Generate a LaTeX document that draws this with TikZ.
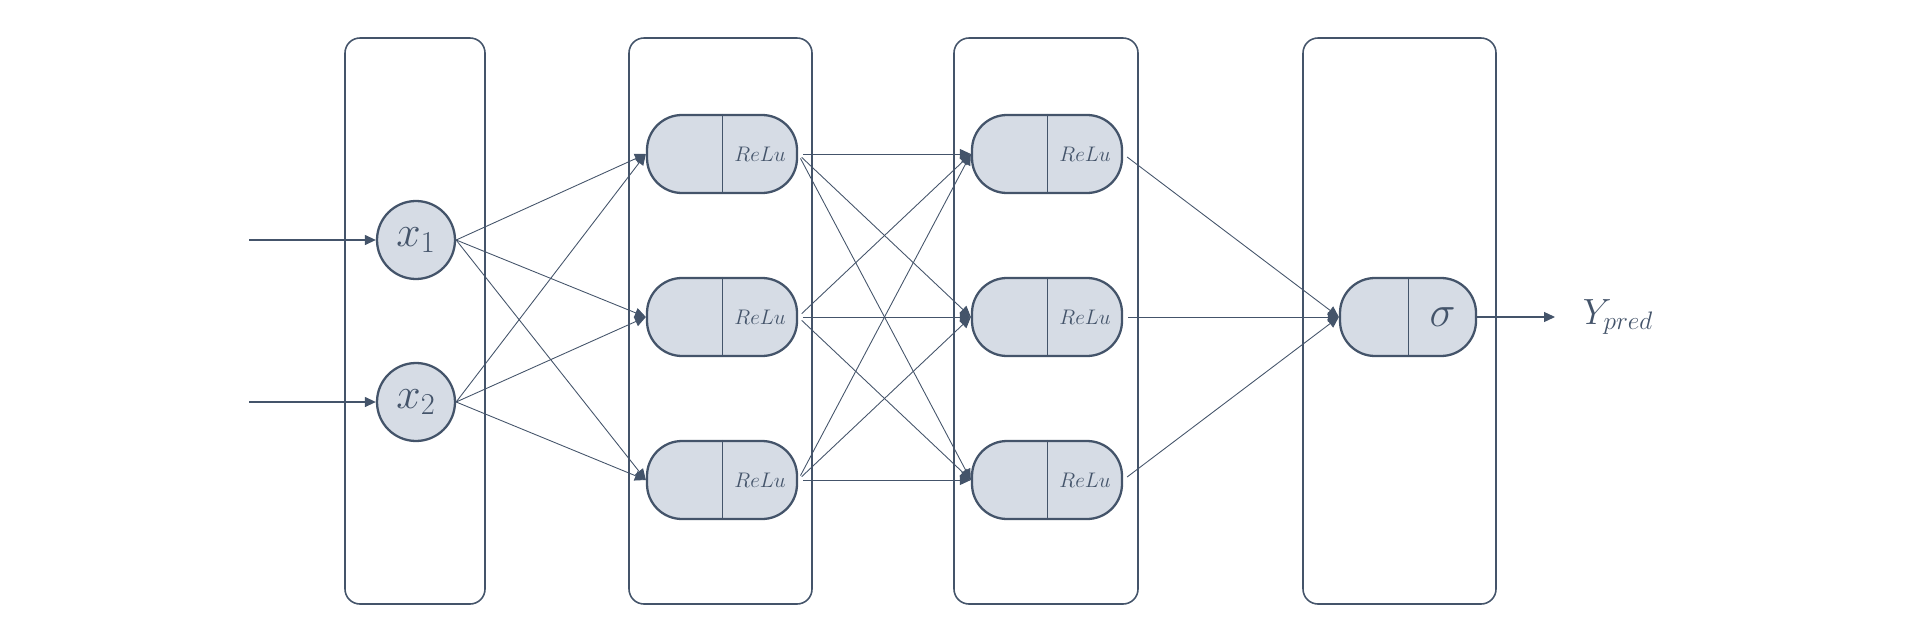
\documentclass[tikz,border=0pt]{standalone}
\usetikzlibrary{positioning,arrows.meta}
\definecolor{slate}{HTML}{44546A}
\definecolor{paleslate}{HTML}{D6DCE5}
\begin{document}
\begin{tikzpicture}[layer/.style={draw=slate,line width=0.9pt,rounded corners=0.3cm},
    unit/.style={draw=slate,fill=paleslate,line width=1.3pt,minimum width=3cm,
    minimum height=1.56cm,rounded corners=0.7cm,inner sep=0pt},
    inp/.style={circle,draw=slate,fill=paleslate,line width=1.3pt,minimum size=1.56cm,
    inner sep=0pt,text=slate,font=\fontsize{24}{26}\selectfont},
    act/.style={text=slate,inner sep=0pt,font=\fontsize{13}{15}\selectfont},
    link/.style={draw=slate,line width=0.5pt,-{Triangle[length=0.22cm,width=0.2cm]}}]
 \useasboundingbox (0,0) rectangle (38.4,12.66);
 % layer frames
 \foreach \a/\b in {6.9/9.7,12.58/16.24,19.08/22.76,26.06/29.92}
  \draw[layer] (\a,0.58) rectangle (\b,11.9);
 % input neurons
 \node[inp] (x1) at (8.32,7.86) {$x_1$};
 \node[inp] (x2) at (8.32,4.62) {$x_2$};
 % hidden layers
 \foreach \L/\X in {1/14.44,2/20.94}
  \foreach \J/\Y in {1/9.58,2/6.32,3/3.06}
  {\node[unit] (h\L-\J) at (\X,\Y) {};
   \draw[slate,line width=0.4pt] (h\L-\J.north) -- (h\L-\J.south);
   \path (h\L-\J.center) -- (h\L-\J.east) node[midway,act] (r\L-\J) {$ReLu$};}
 % output neuron
 \node[unit,minimum width=2.72cm] (out) at (28.16,6.32) {};
 \draw[slate,line width=0.4pt] (out.north) -- (out.south);
 \path (out.center) -- (out.east) node[midway,act,font=\fontsize{24}{26}\selectfont] (sig) {$\sigma$};
 % connections
 \coordinate (in1) at (4.98,7.86);
 \coordinate (in2) at (4.98,4.62);
 \coordinate (yend) at (31.1,6.32);
 \draw[link,line width=0.7pt] (in1) -- (x1.west);
 \draw[link,line width=0.7pt] (in2) -- (x2.west);
 \foreach \I in {1,2}
  \foreach \J in {1,2,3}
   {\draw[link] (x\I.east) -- (h1-\J.west);}
 \foreach \I in {1,2,3}
  \foreach \J in {1,2,3}
   {\draw[link,shorten <=0.1cm] (h1-\I.east) -- (h2-\J.west);}
 \foreach \I in {1,2,3}
  {\draw[link,shorten <=0.1cm] (h2-\I.east) -- (out.west);}
 \draw[link,line width=0.7pt] (out.east) -- (yend);
 \node[right=0.55cm of yend,anchor=west,inner sep=0pt,text=slate,
  font=\fontsize{22}{24}\selectfont] (ypred) {$Y_{pred}$};
\end{tikzpicture}
\end{document}
